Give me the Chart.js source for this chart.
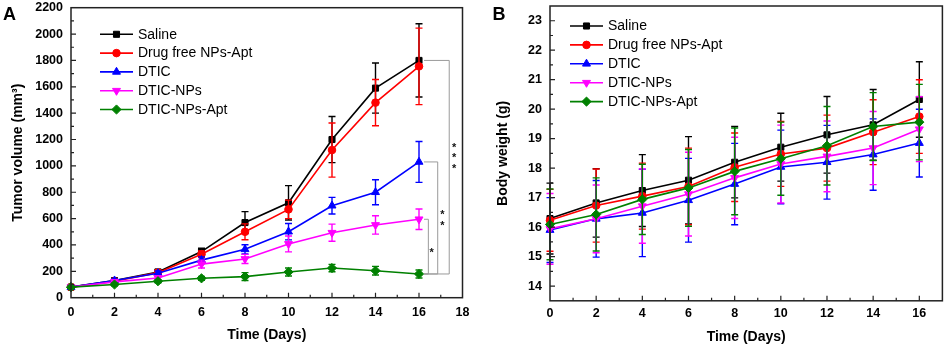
<!DOCTYPE html>
<html>
<head>
<meta charset="utf-8">
<script src="https://cdn.jsdelivr.net/npm/chart.js@4.4.1/dist/chart.umd.min.js"></script>
<style>
html, body { margin: 0; padding: 0; background: #fff; }
#wrap { position: relative; width: 948px; height: 348px; overflow: hidden; }
canvas { position: absolute; top: 0; }
#chartA { left: 0; }
#chartB { left: 474px; }
</style>
</head>
<body>
<div id="wrap">
  <canvas id="chartA" width="474" height="348"></canvas>
  <canvas id="chartB" width="474" height="348"></canvas>
</div>
<script>
// shared x values and series
const days = [0, 2, 4, 6, 8, 10, 12, 14, 16];
const seriesNames = ['Saline', 'Drug free NPs-Apt', 'DTIC', 'DTIC-NPs', 'DTIC-NPs-Apt'];
const seriesColors = ['#000000', '#ff0000', '#0000ff', '#ff00ff', '#008000'];

// Panel A - tumor volume (mm3)
const salineVol      = [80, 130, 195, 350, 570, 720, 1200, 1590, 1800];
const salineVolErr   = [10, 15, 20, 25, 83, 130, 175, 190, 278];
const drugFreeVol    = [80, 125, 190, 330, 500, 670, 1120, 1480, 1755];
const drugFreeVolErr = [10, 15, 20, 25, 60, 70, 205, 175, 290];
const dticVol        = [80, 130, 185, 285, 367, 501, 698, 800, 1030];
const dticVolErr     = [10, 12, 18, 25, 35, 62, 63, 95, 155];
const dticNpsVol     = [80, 120, 150, 255, 294, 408, 493, 552, 595];
const dticNpsVolErr  = [10, 12, 15, 30, 35, 60, 65, 70, 78];
const dticAptVol     = [80, 100, 125, 147, 160, 195, 225, 205, 180];
const dticAptVolErr  = [10, 10, 12, 15, 30, 30, 28, 33, 30];

// Panel B - body weight (g)
const salineBw      = [16.29, 16.82, 17.24, 17.59, 18.20, 18.71, 19.13, 19.47, 20.33];
const salineBwErr   = [1.20, 1.16, 1.22, 1.48, 1.21, 1.15, 1.30, 1.20, 1.28];
const drugFreeBw    = [16.23, 16.73, 17.05, 17.38, 18.03, 18.48, 18.68, 19.22, 19.75];
const drugFreeBwErr = [1.05, 1.24, 1.12, 1.30, 1.16, 1.10, 1.12, 1.10, 1.25];
const dticBw        = [15.90, 16.28, 16.48, 16.91, 17.46, 18.04, 18.20, 18.46, 18.85];
const dticBwErr     = [1.10, 1.30, 1.48, 1.42, 1.38, 1.25, 1.25, 1.21, 1.15];
const dticNpsBw     = [15.94, 16.28, 16.71, 17.12, 17.67, 18.14, 18.40, 18.68, 19.32];
const dticNpsBwErr  = [1.20, 1.15, 1.26, 1.42, 1.38, 1.32, 1.20, 1.24, 1.10];
const dticAptBw     = [16.09, 16.43, 16.94, 17.33, 17.89, 18.32, 18.76, 19.41, 19.56];
const dticAptBwErr  = [1.20, 1.24, 1.19, 1.30, 1.47, 1.24, 1.33, 1.15, 1.28];

// tick labels
const xTicksA = [0, 2, 4, 6, 8, 10, 12, 14, 16, 18];
const yTicksA = [0, 200, 400, 600, 800, 1000, 1200, 1400, 1600, 1800, 2000, 2200];
const xTicksB = [0, 2, 4, 6, 8, 10, 12, 14, 16];
const yTicksB = [14, 15, 16, 17, 18, 19, 20, 21, 22, 23];

const FONT = "'Liberation Sans', Arial, sans-serif";
const markers = [
    { style: 'rect', radius: 4.3, rotation: 0 },
    { style: 'circle', radius: 3.8, rotation: 0 },
    { style: 'triangle', radius: 4.6, rotation: 0 },
    { style: 'triangle', radius: 4.6, rotation: 180 },
    { style: 'rectRot', radius: 4.6, rotation: 0 }
];

function makeDatasets(values, errors) {
    return values.map((vals, i) => ({
        label: seriesNames[i],
        data: days.map((d, k) => ({ x: d, y: vals[k] })),
        errors: errors[i],
        borderColor: seriesColors[i],
        backgroundColor: seriesColors[i],
        borderWidth: 1.6,
        pointStyle: markers[i].style,
        pointRadius: markers[i].radius,
        pointRotation: markers[i].rotation,
        pointBorderWidth: 1,
        tension: 0,
        clip: false,
        order: values.length - i   // later series on top, like the original
    }));
}

// error bars drawn under each series' line
const errorBars = {
    id: 'errorBars',
    beforeDatasetDraw(chart, args) {
        const ds = chart.data.datasets[args.index];
        if (!ds.errors) return;
        const ctx = chart.ctx, xs = chart.scales.x, ys = chart.scales.y;
        ctx.save();
        ctx.strokeStyle = ds.borderColor;
        ctx.lineWidth = 1.4;
        ds.data.forEach((p, i) => {
            const e = ds.errors[i];
            const px = xs.getPixelForValue(p.x);
            const top = ys.getPixelForValue(p.y + e);
            const bot = ys.getPixelForValue(p.y - e);
            ctx.beginPath();
            ctx.moveTo(px, top); ctx.lineTo(px, bot);
            ctx.moveTo(px - 3.5, top); ctx.lineTo(px + 3.5, top);
            ctx.moveTo(px - 3.5, bot); ctx.lineTo(px + 3.5, bot);
            ctx.stroke();
        });
        ctx.restore();
    }
};

// box frame + inward ticks (Origin style)
const frameTicks = {
    id: 'frameTicks',
    afterDraw(chart, args, opts) {
        const { ctx, chartArea: a, scales: { x, y } } = chart;
        ctx.save();
        ctx.strokeStyle = '#222';
        ctx.lineWidth = 1.5;
        ctx.strokeRect(a.left, a.top, a.right - a.left, a.bottom - a.top);
        ctx.lineWidth = 1.2;
        ctx.beginPath();
        const n = Math.round((x.max - x.min) / opts.xMinor);
        for (let k = 1; k < n; k++) {
            const v = x.min + k * opts.xMinor;
            const px = x.getPixelForValue(v);
            const len = Math.abs(v / opts.xMajor - Math.round(v / opts.xMajor)) < 1e-6 ? 5 : 3;
            ctx.moveTo(px, a.bottom); ctx.lineTo(px, a.bottom - len);
        }
        const m = Math.round((y.max - y.min) / opts.yMinor);
        for (let k = 1; k < m; k++) {
            const v = y.min + k * opts.yMinor;
            const py = y.getPixelForValue(v);
            const len = Math.abs(v / opts.yMajor - Math.round(v / opts.yMajor)) < 1e-6 ? 5 : 3;
            ctx.moveTo(a.left, py); ctx.lineTo(a.left + len, py);
        }
        ctx.stroke();
        // panel letter
        ctx.fillStyle = '#000';
        ctx.font = 'bold 18px ' + FONT;
        ctx.textBaseline = 'alphabetic';
        ctx.fillText(opts.letter, opts.letterX, opts.letterY);
        ctx.restore();
    }
};

// legend drawn inside the plot, Origin style
const boxLegend = {
    id: 'boxLegend',
    afterDraw(chart, args, opts) {
        const ctx = chart.ctx;
        ctx.save();
        chart.data.datasets.forEach((ds, i) => {
            const y = opts.top + i * opts.rowGap;
            ctx.strokeStyle = ds.borderColor;
            ctx.fillStyle = ds.borderColor;
            ctx.lineWidth = 1.6;
            ctx.beginPath();
            ctx.moveTo(opts.left, y);
            ctx.lineTo(opts.left + opts.lineLen, y);
            ctx.stroke();
            ctx.lineWidth = 1;
            Chart.helpers.drawPoint(ctx, {
                pointStyle: ds.pointStyle,
                radius: ds.pointRadius,
                rotation: ds.pointRotation,
                borderWidth: 1
            }, opts.left + opts.lineLen / 2, y);
            ctx.fillStyle = '#000';
            ctx.font = '14px ' + FONT;
            ctx.textBaseline = 'middle';
            ctx.textAlign = 'left';
            ctx.fillText(ds.label, opts.left + opts.lineLen + 5, y + 0.5);
        });
        ctx.restore();
    }
};

// significance brackets on panel A
const sigBrackets = {
    id: 'sigBrackets',
    afterDatasetsDraw(chart, args, opts) {
        if (!opts.items) return;
        const { ctx, scales: { x, y } } = chart;
        ctx.save();
        ctx.strokeStyle = '#9a9a9a';
        ctx.lineWidth = 1;
        ctx.fillStyle = '#111';
        ctx.font = 'bold 11px ' + FONT;
        ctx.textAlign = 'center';
        ctx.textBaseline = 'middle';
        const x0 = x.getPixelForValue(opts.start);
        const yb = y.getPixelForValue(opts.base);
        opts.items.forEach(b => {
            const x1 = x.getPixelForValue(b.end);
            const yt = y.getPixelForValue(b.from);
            ctx.beginPath();
            ctx.moveTo(x0, yt); ctx.lineTo(x1, yt); ctx.lineTo(x1, yb); ctx.lineTo(x0, yb);
            ctx.stroke();
            const sx = x.getPixelForValue(b.starX);
            const sy = y.getPixelForValue(b.starY);
            for (let k = 0; k < b.stars; k++) {
                ctx.fillText('*', sx, sy + (k - (b.stars - 1) / 2) * 10.5 + 3);
            }
        });
        ctx.restore();
    }
};

function tickList(list) {
    return scale => { scale.ticks = list.map(v => ({ value: v })); };
}

function baseOptions(cfg) {
    return {
        responsive: false,
        animation: false,
        events: [],
        layout: { padding: cfg.padding },
        plugins: {
            legend: { display: false },
            tooltip: { enabled: false },
            frameTicks: cfg.frame,
            boxLegend: cfg.legend,
            sigBrackets: cfg.brackets || {}
        },
        scales: {
            x: {
                type: 'linear',
                min: cfg.xMin, max: cfg.xMax,
                afterBuildTicks: tickList(cfg.xTicks),
                afterFit: s => { s.height = cfg.xHeight; s.paddingLeft = 0; s.paddingRight = 0; },
                grid: { display: false, drawTicks: false },
                border: { display: false },
                ticks: { color: '#000', padding: cfg.xTickPad, maxRotation: 0, autoSkip: false,
                         callback: v => String(v),
                         font: { family: FONT, size: 12.5, weight: 'bold' } },
                title: { display: true, text: 'Time (Days)', color: '#000',
                         font: { family: FONT, size: 14, weight: 'bold' },
                         padding: { top: 0, bottom: cfg.xTitlePad } }
            },
            y: {
                type: 'linear',
                min: cfg.yMin, max: cfg.yMax,
                afterBuildTicks: tickList(cfg.yTicks),
                afterFit: s => { s.width = cfg.yWidth; s.paddingTop = 0; s.paddingBottom = 0; },
                grid: { display: false, drawTicks: false },
                border: { display: false },
                ticks: { color: '#000', padding: 8, autoSkip: false,
                         callback: v => String(v),
                         font: { family: FONT, size: 12.5, weight: 'bold' } },
                title: { display: true, text: cfg.yTitle, color: '#000',
                         font: { family: FONT, size: 14, weight: 'bold' },
                         padding: { top: cfg.yTitlePad, bottom: 0 } }
            }
        }
    };
}

// Panel A
new Chart(document.getElementById('chartA').getContext('2d'), {
    type: 'line',
    data: {
        datasets: makeDatasets(
            [salineVol, drugFreeVol, dticVol, dticNpsVol, dticAptVol],
            [salineVolErr, drugFreeVolErr, dticVolErr, dticNpsVolErr, dticAptVolErr])
    },
    options: baseOptions({
        padding: { top: 7.7, right: 11.5, left: 0, bottom: 0 },
        xMin: 0, xMax: 18, xTicks: xTicksA, xHeight: 50.3, xTickPad: 7, xTitlePad: 4.6,
        yMin: 0, yMax: 2200, yTicks: yTicksA, yWidth: 71, yTitlePad: 10,
        yTitle: 'Tumor volume (mm\u00B3)',
        frame: { xMinor: 1, xMajor: 2, yMinor: 100, yMajor: 200, letter: 'A', letterX: 3, letterY: 20 },
        legend: { left: 100, top: 34.3, rowGap: 18.8, lineLen: 33 },
        brackets: {
            start: 16.23,
            base: dticAptVol[dticAptVol.length - 1],
            items: [
                { from: salineVol[salineVol.length - 1], end: 17.39, stars: 3, starX: 17.61, starY: 1080 },
                { from: dticVol[dticVol.length - 1], end: 16.86, stars: 2, starX: 17.07, starY: 608 },
                { from: dticNpsVol[dticNpsVol.length - 1], end: 16.43, stars: 1, starX: 16.58, starY: 362 }
            ]
        }
    }),
    plugins: [errorBars, sigBrackets, frameTicks, boxLegend]
});

// Panel B
new Chart(document.getElementById('chartB').getContext('2d'), {
    type: 'line',
    data: {
        datasets: makeDatasets(
            [salineBw, drugFreeBw, dticBw, dticNpsBw, dticAptBw],
            [salineBwErr, drugFreeBwErr, dticBwErr, dticNpsBwErr, dticAptBwErr])
    },
    options: baseOptions({
        padding: { top: 6, right: 3, left: 0, bottom: 0 },
        xMin: 0, xMax: 17, xTicks: xTicksB, xHeight: 47.2, xTickPad: 5.3, xTitlePad: 2.6,
        yMin: 13.5, yMax: 23.5, yTicks: yTicksB, yWidth: 76, yTitlePad: 20.6,
        yTitle: 'Body weight (g)',
        frame: { xMinor: 1, xMajor: 2, yMinor: 0.5, yMajor: 1, letter: 'B', letterX: 18.5, letterY: 20 },
        legend: { left: 96, top: 26, rowGap: 18.9, lineLen: 33 }
    }),
    plugins: [errorBars, frameTicks, boxLegend]
});
</script>
</body>
</html>
